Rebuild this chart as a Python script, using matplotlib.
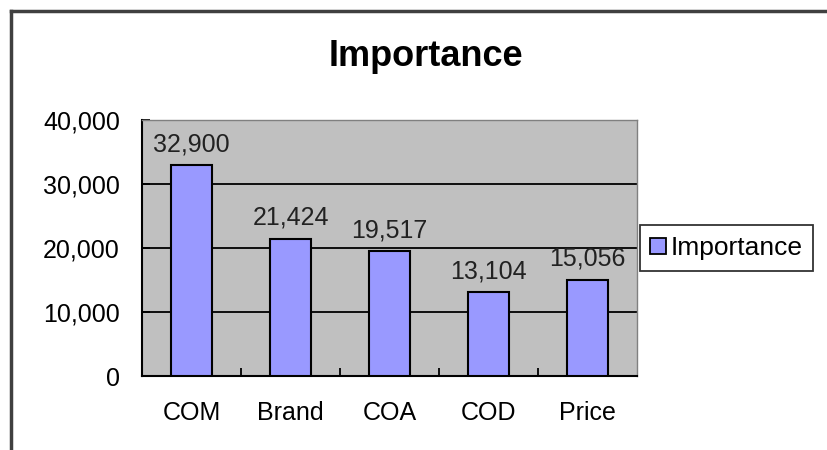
import matplotlib.pyplot as plt
from matplotlib.lines import Line2D
from matplotlib.ticker import FuncFormatter, MultipleLocator

plt.rcParams["font.family"] = ["Liberation Sans", "DejaVu Sans"]

categories = ["COM", "Brand", "COA", "COD", "Price"]
importance = [32900, 21424, 19517, 13104, 15056]
series_name = "Importance"

fig = plt.figure(figsize=(8.28, 4.5), dpi=100)
ax = fig.add_axes([142 / 828, 1 - 376 / 450, 495 / 828, 256 / 450])
ax.set_facecolor("#c0c0c0")

x = range(len(categories))
bars = ax.bar(x, importance, width=0.41, color="#9999ff", edgecolor="black",
              linewidth=1.5, zorder=3, label=series_name)
for b, v in zip(bars, importance):
    ax.text(b.get_x() + b.get_width() / 2, v + 1400, f"{v:,}", ha="center",
            va="bottom", fontsize=18, color="#222222", zorder=4)

ax.set_xlim(-0.5, len(categories) - 0.5)
ax.set_ylim(0, 40000)
ax.yaxis.set_major_locator(MultipleLocator(10000))
ax.yaxis.set_major_formatter(FuncFormatter(lambda v, p: f"{int(v):,}"))
ax.grid(axis="y", color="black", linewidth=1.3, zorder=1)
ax.set_axisbelow(True)

ax.set_xticks(x)
ax.set_xticklabels(categories, fontsize=18)
ax.set_xticks([i + 0.5 for i in range(len(categories) - 1)], minor=True)
ax.tick_params(axis="x", which="major", length=0, pad=18)
ax.tick_params(axis="x", which="minor", direction="in", length=6, width=1.3)
ax.tick_params(axis="y", direction="in", length=6, width=1.3, labelsize=18, pad=16)

for s in ("left", "bottom"):
    ax.spines[s].set_color("black")
    ax.spines[s].set_linewidth(1.5)
for s in ("top", "right"):
    ax.spines[s].set_color("#808080")
    ax.spines[s].set_linewidth(1.0)

fig.text(426 / 828, 1 - 57 / 450, "Importance", ha="center", va="center",
         fontsize=26, fontweight="bold")

handle = Line2D([], [], marker="s", linestyle="none", markersize=11,
                markerfacecolor="#9999ff", markeredgecolor="black", markeredgewidth=1.3)
leg = fig.legend([handle], [series_name], loc="center left",
                 bbox_to_anchor=(640 / 828, 1 - 248 / 450), fontsize=19,
                 frameon=True, fancybox=False, handlelength=0.6, handletextpad=0.15,
                 borderpad=0.4, borderaxespad=0)
leg.get_frame().set_edgecolor("black")
leg.get_frame().set_linewidth(1.3)

# outer chart border (left and top only visible)
fig.add_artist(Line2D([11 / 828, 11 / 828], [0, 1 - 11 / 450], color="#404040",
                      linewidth=2.5, transform=fig.transFigure))
fig.add_artist(Line2D([11 / 828, 1], [1 - 11 / 450, 1 - 11 / 450], color="#404040",
                      linewidth=2.5, transform=fig.transFigure))

fig.savefig("out.png", dpi=100)
